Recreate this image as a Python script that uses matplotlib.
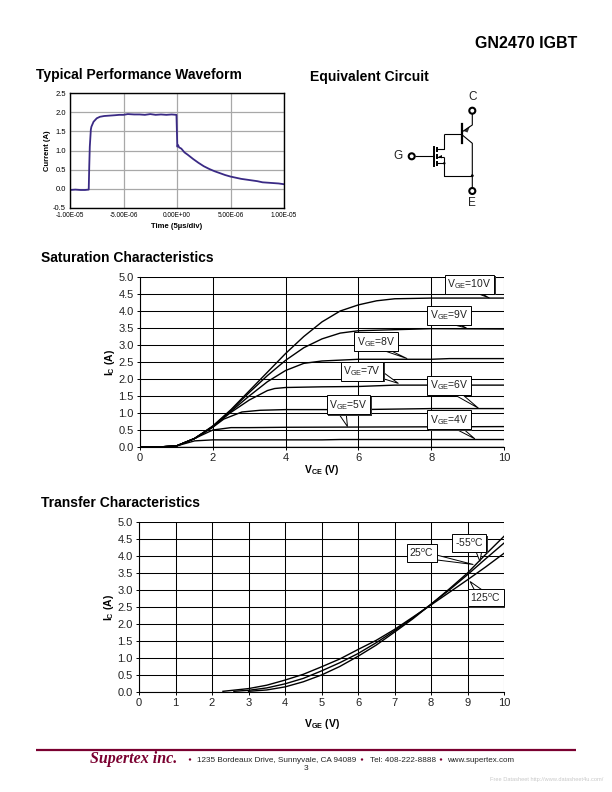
import matplotlib
matplotlib.use('Agg')
import matplotlib.pyplot as plt
from matplotlib.patches import Circle, Polygon
from matplotlib.patheffects import withSimplePatchShadow

plt.rcParams['font.family'] = ['Liberation Sans', 'DejaVu Sans']
plt.rcParams['mathtext.fontset'] = 'custom'
plt.rcParams['mathtext.rm'] = 'Liberation Sans'
plt.rcParams['mathtext.bf'] = 'Liberation Sans:bold'
plt.rcParams['mathtext.default'] = 'regular'

W = 612
H = 792

# waveform, time in seconds
wave_t = [-1.0e-5, -9.5e-6, -9.0e-6, -8.6e-6, -8.25e-6, -8.2e-6, -8.15e-6, -8.05e-6, -8.0e-6, -7.8e-6,
          -7.5e-6, -7.2e-6, -6.8e-6, -6.3e-6, -5.8e-6, -5.4e-6, -5.0e-6, -4.6e-6, -4.0e-6, -3.5e-6,
          -3.0e-6, -2.5e-6, -2.0e-6, -1.5e-6, -1.0e-6, -0.5e-6, -0.05e-6, 0.0, 0.03e-6, 0.1e-6,
          0.2e-6, 0.4e-6, 0.7e-6, 1.0e-6, 1.5e-6, 2.0e-6, 2.5e-6, 3.0e-6, 3.5e-6, 4.0e-6,
          4.5e-6, 5.0e-6, 5.5e-6, 6.0e-6, 6.5e-6, 7.0e-6, 7.5e-6, 8.0e-6, 8.5e-6, 9.0e-6,
          9.5e-6, 1.0e-5]
wave_i = [-0.03, -0.02, -0.03, -0.03, -0.02, 0.6, 1.1, 1.55, 1.62, 1.75,
          1.84, 1.88, 1.90, 1.91, 1.92, 1.93, 1.93, 1.95, 1.94, 1.94,
          1.93, 1.95, 1.93, 1.94, 1.93, 1.94, 1.93, 1.40, 1.10, 1.14,
          1.08, 1.05, 0.95, 0.89, 0.78, 0.68, 0.59, 0.52, 0.46, 0.41,
          0.36, 0.32, 0.29, 0.26, 0.24, 0.22, 0.20, 0.17, 0.16, 0.15,
          0.14, 0.12]

# saturation characteristics
vce_10 = [0, 0.5, 1, 1.5, 2, 2.5, 3, 3.5, 4, 4.5, 5, 5.5, 6, 6.5, 7, 8, 10]
ic_10 = [0, 0, 0.03, 0.25, 0.62, 1.1, 1.65, 2.2, 2.75, 3.25, 3.68, 4.0, 4.18, 4.3, 4.36, 4.38, 4.38]
vce_9 = [0, 0.5, 1, 1.5, 2, 2.5, 3, 3.5, 4, 4.5, 5, 5.5, 6, 7, 8, 10]
ic_9 = [0, 0, 0.03, 0.25, 0.6, 1.08, 1.6, 2.1, 2.55, 2.92, 3.18, 3.35, 3.42, 3.45, 3.48, 3.47]
vce_8 = [0, 0.5, 1, 1.5, 2, 2.5, 3, 3.5, 4, 4.5, 5, 6, 8, 8.5, 10]
ic_8 = [0, 0, 0.03, 0.25, 0.6, 1.05, 1.5, 1.92, 2.25, 2.46, 2.53, 2.58, 2.58, 2.6, 2.6]
vce_7 = [0, 0.5, 1, 1.5, 2, 2.5, 3, 3.5, 3.7, 4, 5, 6, 7, 10]
ic_7 = [0, 0, 0.03, 0.25, 0.6, 1.02, 1.38, 1.66, 1.72, 1.75, 1.77, 1.78, 1.82, 1.82]
vce_6 = [0, 0.5, 1, 1.5, 2, 2.3, 2.8, 3.3, 4, 6, 8, 10]
ic_6 = [0, 0, 0.03, 0.25, 0.58, 0.82, 1.03, 1.08, 1.1, 1.1, 1.13, 1.13]
vce_5 = [0, 0.5, 1, 1.5, 2, 2.5, 3, 4, 10]
ic_5 = [0, 0, 0.03, 0.25, 0.5, 0.57, 0.57, 0.58, 0.6]
vce_4 = [0, 0.5, 1, 1.5, 2, 5, 5.5, 10]
ic_4 = [0, 0, 0.03, 0.18, 0.21, 0.21, 0.22, 0.22]
vce_3 = [0, 10]
ic_3 = [0.01, 0.01]

sat_curves = [(vce_10, ic_10), (vce_9, ic_9), (vce_8, ic_8), (vce_7, ic_7),
              (vce_6, ic_6), (vce_5, ic_5), (vce_4, ic_4), (vce_3, ic_3)]

sat_labels = ['V$_{GE}$=10V', 'V$_{GE}$=9V', 'V$_{GE}$=8V', 'V$_{GE}$=7V',
              'V$_{GE}$=6V', 'V$_{GE}$=5V', 'V$_{GE}$=4V']
sat_boxes = [(9.05, 4.78), (8.49, 3.88), (6.48, 3.1), (6.1, 2.23), (8.49, 1.82), (5.73, 1.24), (8.49, 0.8)]
# pointer of each callout: two points on the box, then the tip
sat_pointers = [[(9.07, 4.6), (9.25, 4.6), (9.6, 4.38)],
                [(8.52, 3.62), (8.75, 3.62), (8.97, 3.5)],
                [(6.55, 2.89), (6.78, 2.89), (7.34, 2.6)],
                [(6.65, 2.22), (6.65, 2.02), (7.1, 1.87)],
                [(8.6, 1.56), (8.84, 1.56), (9.3, 1.14)],
                [(5.42, 1.04), (5.66, 1.04), (5.7, 0.6)],
                [(8.6, 0.57), (8.84, 0.57), (9.2, 0.24)]]

# transfer characteristics
vge_m55 = [3, 3.5, 4, 4.5, 5, 5.5, 6, 6.5, 7, 7.5, 8, 8.5, 9, 9.5, 10]
ic_m55 = [0.02, 0.06, 0.15, 0.3, 0.5, 0.75, 1.05, 1.38, 1.76, 2.15, 2.58, 3.03, 3.5, 4.05, 4.58]
vge_25 = [2.6, 3, 3.5, 4, 4.5, 5, 5.5, 6, 6.5, 7, 7.5, 8, 8.5, 9, 9.5, 10]
ic_25 = [0.02, 0.05, 0.12, 0.24, 0.4, 0.62, 0.86, 1.13, 1.45, 1.8, 2.18, 2.58, 3.0, 3.45, 3.92, 4.38]
vge_125 = [2.3, 3, 3.5, 4, 4.5, 5, 5.5, 6, 6.5, 7, 7.5, 8, 8.5, 9, 9.5, 10]
ic_125 = [0.02, 0.1, 0.2, 0.35, 0.52, 0.74, 0.97, 1.25, 1.52, 1.84, 2.2, 2.56, 2.93, 3.3, 3.68, 4.08]

tr_labels = ['-55$^{o}$C', '25$^{o}$C', '125$^{o}$C']
tr_boxes = [(9.05, 4.38), (7.75, 4.08), (9.5, 2.78)]
tr_pointers = [[(9.23, 4.14), (9.39, 4.14), (9.34, 3.84)],
               [(8.11, 4.04), (8.11, 3.89), (9.16, 3.75)],
               [(9.2, 2.98), (9.43, 2.98), (9.07, 3.25)]]


def axes_px(fig, left, top, right, bottom):
    return fig.add_axes([left / W, 1 - bottom / H, (right - left) / W, (bottom - top) / H])


def callout(ax, label, box, pointer):
    ax.add_patch(Polygon(pointer, closed=True, fc='white', ec='black', lw=0.7, zorder=5, clip_on=False))
    t = ax.text(box[0], box[1], label, fontsize=7.5, ha='center', va='center', zorder=6, color='#222222',
                bbox=dict(boxstyle='square,pad=0.25', fc='white', ec='black', lw=0.7))
    t.get_bbox_patch().set_path_effects([withSimplePatchShadow(offset=(1, -1), shadow_rgbFace='#333333', alpha=1)])


def style_chart(ax, xticks, xlabel, ylabel):
    ax.set_xlim(0, 10)
    ax.set_ylim(0, 5)
    ax.set_xticks(xticks)
    ax.set_yticks([i * 0.5 for i in range(11)])
    ax.set_yticklabels(['%.1f' % (i * 0.5) for i in range(11)])
    ax.grid(True, color='black', lw=0.75)
    ax.set_axisbelow(True)
    ax.tick_params(labelsize=8, length=2.5, width=0.7, pad=2, labelcolor='#222222')
    for side in ['top', 'right']:
        ax.spines[side].set_visible(False)
    ax.set_xlabel(xlabel, fontsize=7.5, fontweight='bold')
    ax.set_ylabel(ylabel, fontsize=7.5, fontweight='bold', labelpad=1)


fig = plt.figure(figsize=(6.12, 7.92), dpi=100)

# page level drawing area in pixels
page = fig.add_axes([0, 0, 1, 1], zorder=10)
page.set_xlim(0, W)
page.set_ylim(H, 0)
page.axis('off')
page.patch.set_alpha(0)

page.text(577, 43, 'GN2470 IGBT', fontsize=11.5, fontweight='bold', ha='right', va='center')
page.text(36, 75, 'Typical Performance Waveform', fontsize=10, fontweight='bold', va='center')
page.text(310, 77, 'Equivalent Circuit', fontsize=10.1, fontweight='bold', va='center')
page.text(41, 258, 'Saturation Characteristics', fontsize=10, fontweight='bold', va='center')
page.text(41, 503, 'Transfer Characteristics', fontsize=10, fontweight='bold', va='center')

# waveform
ax1 = axes_px(fig, 70, 93, 284, 208)
ax1.plot(wave_t, wave_i, color='#3a2a85', lw=1.3)
ax1.set_xlim(-1e-5, 1e-5)
ax1.set_ylim(-0.5, 2.5)
ax1.set_xticks([-1e-5, -5e-6, 0, 5e-6, 1e-5])
ax1.set_xticklabels(['-1.00E-05', '-5.00E-06', '0.00E+00', '5.00E-06', '1.00E-05'])
ax1.set_yticks([-0.5, 0, 0.5, 1, 1.5, 2, 2.5])
ax1.set_yticklabels(['-0.5', '0.0', '0.5', '1.0', '1.5', '2.0', '2.5'])
ax1.grid(True, color='#a8a8a8', lw=0.9)
ax1.set_axisbelow(True)
ax1.tick_params(axis='y', labelsize=5.5, length=0, pad=3)
ax1.tick_params(axis='x', labelsize=4.7, length=0, pad=3)
ax1.set_xlabel('Time (5µs/div)', fontsize=5.5, fontweight='bold', labelpad=3)
ax1.set_ylabel('Current (A)', fontsize=5.5, fontweight='bold', labelpad=1)
for s in ax1.spines.values():
    s.set_linewidth(1.0)

# saturation
ax2 = axes_px(fig, 140, 277, 504, 447)
for vce, ic in sat_curves:
    ax2.plot(vce, ic, color='black', lw=1.0, zorder=3)
style_chart(ax2, [0, 2, 4, 6, 8, 10], 'V$_{\\mathbf{CE}}$ (V)', 'I$_{\\mathbf{C}}$ (A)')
ax2.xaxis.labelpad = 0
for label, box, pointer in zip(sat_labels, sat_boxes, sat_pointers):
    callout(ax2, label, box, pointer)

# transfer
ax3 = axes_px(fig, 139, 522, 504, 692)
ax3.plot(vge_m55, ic_m55, color='black', lw=1.0, zorder=3)
ax3.plot(vge_25, ic_25, color='black', lw=1.0, zorder=3)
ax3.plot(vge_125, ic_125, color='black', lw=1.0, zorder=3)
style_chart(ax3, list(range(11)), 'V$_{\\mathbf{GE}}$ (V)', 'I$_{\\mathbf{C}}$ (A)')
ax3.xaxis.labelpad = 6
for label, box, pointer in zip(tr_labels, tr_boxes, tr_pointers):
    callout(ax3, label, box, pointer)

# equivalent circuit
wires = [
    ([472.3, 472.3, 462.3], [113, 125, 131.7]),
    ([462.3, 472.3, 472.3], [135, 143.3, 188]),
    ([444.3, 462.3], [134, 134]),
    ([444.3, 444.3, 437.3], [134, 149, 149]),
    ([437.3, 444.3, 444.3, 472.3], [163.3, 163.3, 175.7, 175.7]),
    ([437.3, 444.3], [156.7, 156.7]),
    ([444.3, 444.3], [156.7, 163.3]),
    ([414.5, 434.3], [156.3, 156.3]),
]
for xs, ys in wires:
    page.plot(xs, ys, color='black', lw=0.8, solid_capstyle='butt')
page.plot([462.3, 462.3], [124.3, 143.3], color='black', lw=1.6)
page.plot([434.3, 434.3], [146.7, 166], color='black', lw=1.4)
for y0, y1 in [(147.3, 152.3), (154, 159), (161, 166)]:
    page.plot([437.3, 437.3], [y0, y1], color='black', lw=1.4, solid_capstyle='butt')
page.add_patch(Polygon([[463.5, 131], [470, 126], [467.5, 132.5]], fc='#333333', ec='none'))
page.add_patch(Polygon([[438.5, 156.7], [442, 155], [442, 158.4]], fc='black', ec='none'))
for cx, cy, r in [(472.3, 175.7, 1.4), (444.3, 163.3, 1.2)]:
    page.add_patch(Circle((cx, cy), r, fc='black', ec='none'))
for cx, cy in [(472.3, 110.7), (472.3, 191), (411.7, 156.3)]:
    page.add_patch(Circle((cx, cy), 3, fc='white', ec='black', lw=1.5))
page.text(472.3, 97, 'C', fontsize=8.5, ha='center', va='center', color='#222222')
page.text(398, 156.3, 'G', fontsize=8.5, ha='center', va='center', color='#222222')
page.text(472.3, 202.5, 'E', fontsize=8.5, ha='center', va='center', color='#222222')

# footer
page.plot([36, 576], [750, 750], color='#7a0030', lw=1.6, solid_capstyle='butt')
page.text(90, 759, 'Supertex inc.', fontsize=11.5, fontweight='bold', style='italic', family='Liberation Serif',
          color='#7a0030', va='center')
page.add_patch(Circle((190, 759.5), 1.2, fc='#7a0030', ec='none'))
page.text(197, 760, '1235 Bordeaux Drive, Sunnyvale, CA 94089', fontsize=5.9, va='center', color='#222222')
page.add_patch(Circle((362, 759.5), 1.2, fc='#7a0030', ec='none'))
page.text(370, 760, 'Tel: 408-222-8888', fontsize=5.9, va='center', color='#222222')
page.add_patch(Circle((441, 759.5), 1.2, fc='#7a0030', ec='none'))
page.text(447, 760, 'www.supertex.com', fontsize=5.8, va='center', color='#222222')
page.text(306, 769, '3', fontsize=6, ha='center', va='center', color='#222222')
page.text(603, 779, 'Free Datasheet http://www.datasheet4u.com/', fontsize=4.1, ha='right', va='center', color='#c8c8c8')

fig.savefig('out.png', dpi=100)
